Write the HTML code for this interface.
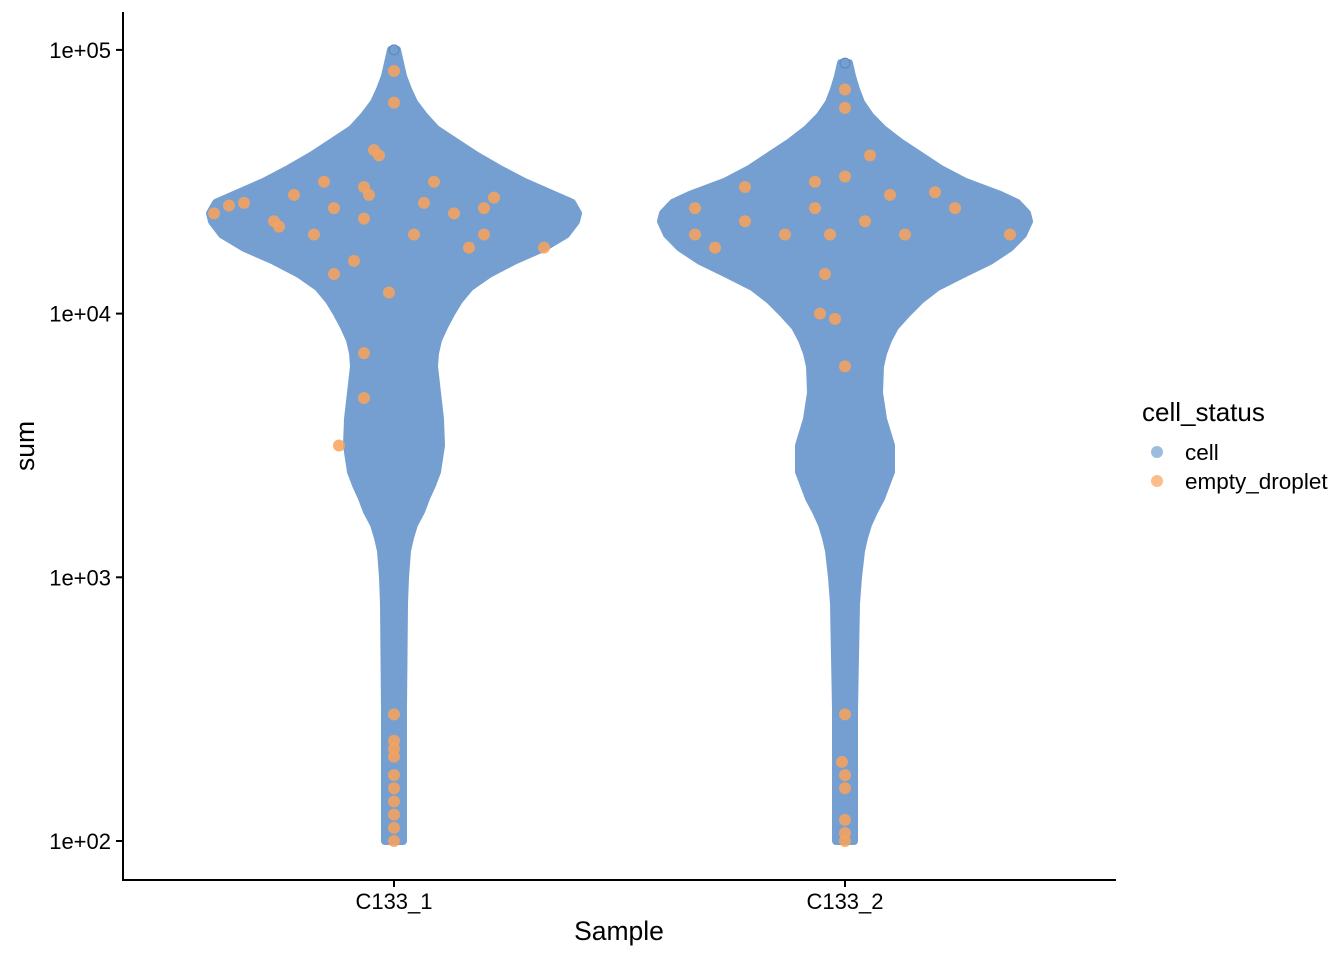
<!DOCTYPE html>
<html><head><meta charset="utf-8"><style>
body{margin:0;background:#fff;}
text{font-family:"Liberation Sans",sans-serif;}
</style></head><body>
<svg width="1344" height="960" viewBox="0 0 1344 960">
<g id="plot"></g>
<line x1="123" y1="12" x2="123" y2="880" stroke="#000" stroke-width="2"/>
<line x1="122" y1="880" x2="1116" y2="880" stroke="#000" stroke-width="2"/>
<g id="yticks"></g>
<g id="xticks"></g>
<text x="619" y="940" font-size="26.5" text-anchor="middle">Sample</text>
<text x="0" y="0" font-size="26.5" text-anchor="middle" transform="translate(34,446) rotate(-90)">sum</text>
<g>
<text x="1142" y="421" font-size="26">cell_status</text>
<g><circle cx="1157" cy="452" r="6" fill="#749fd0" opacity="0.7"/><text x="1185" y="460" font-size="22.5">cell</text></g>
<g><circle cx="1157" cy="481" r="6" fill="#f9a25a" opacity="0.7"/><text x="1185" y="489" font-size="22.5">empty_droplet</text></g>
</g>
</svg>
<script>
const categories=["C133_1","C133_2"];
const levels=[2.0,2.5,2.9,3.0,3.1,3.15,3.2,3.25,3.3,3.35,3.4,3.5,3.6,3.7,3.8,3.85,3.9,3.95,4.0,4.05,4.1,4.15,4.2,4.25,4.3,4.35,4.38,4.42,4.45,4.5,4.55,4.6,4.65,4.7,4.75,4.8,4.85,4.9,4.95,5.0];
const width1=[9,9,10,11,13,16,20,27,32,38,43,47,46,43,40,41,44,50,57,65,76,95,120,150,172,182,184,178,160,130,105,82,62,42,30,20,14,9,6,3];
const width2=[9,9,11,13,16,19,23,29,36,41,46,46,38,34,35,38,43,50,62,75,92,118,145,165,178,184,182,172,155,120,95,75,55,38,25,16,11,7,4,3];
const ymin1=2.0,ymax1=5.0,ymin2=2.0,ymax2=4.95;
const yTickVals=[2,3,4,5];
const yTickLabels=["1e+02","1e+03","1e+04","1e+05"];
const empty1=[[2.0,0],[2.05,0],[2.1,0],[2.15,0],[2.2,0],[2.25,0],[2.32,0],[2.35,0],[2.38,0],[2.48,0],[4.38,-180],[4.42,-150],[4.45,-100],[4.4,-60],[4.35,-120],[4.42,30],[4.38,60],[4.44,100],[4.3,90],[4.36,-30],[4.48,-30],[4.5,40],[4.3,20],[4.2,-40],[4.25,150],[4.25,75],[3.85,-30],[3.68,-30],[3.5,-55],[4.62,-20],[4.92,0],[4.8,0],[4.41,-165],[4.33,-115],[4.45,-25],[4.6,-15],[4.4,90],[4.3,-80],[4.15,-60],[4.08,-5],[4.5,-70]];
const empty2=[[2.0,0],[2.03,0],[2.08,0],[2.2,0],[2.25,0],[2.3,-3],[2.48,0],[4.4,-150],[4.3,-150],[4.35,-100],[4.25,-130],[4.3,-60],[4.4,-30],[4.5,-30],[4.46,90],[4.3,-15],[4.15,-20],[4.0,-25],[3.98,-10],[3.8,0],[4.45,45],[4.6,25],[4.3,60],[4.4,110],[4.3,165],[4.48,-100],[4.35,20],[4.85,0],[4.78,0],[4.52,0]];
const plotG=document.getElementById('plot');
const NS='http://www.w3.org/2000/svg';
function y(v){return 841-(v-2)*263.7;}
function x(i){return 394+i*451;}
function violin(i,ws,lo,hi){
  const cx=x(i);let r=[],l=[];
  r.push([cx,y(lo)]);
  levels.forEach((lv,k)=>{let vv=Math.min(Math.max(lv,lo),hi);r.push([cx+ws[k],y(vv)]);});
  r.push([cx,y(hi)]);
  for(let k=r.length-1;k>=0;k--)l.push([2*cx-r[k][0],r[k][1]]);
  const pts=r.concat(l);
  const p=document.createElementNS(NS,'polygon');
  p.setAttribute('points',pts.map(q=>q[0].toFixed(1)+','+q[1].toFixed(1)).join(' '));
  p.setAttribute('fill','#749fd0');p.setAttribute('stroke','#749fd0');p.setAttribute('stroke-width','8');p.setAttribute('stroke-linejoin','round');
  
  
  plotG.appendChild(p);
}
violin(0,width1,ymin1,ymax1);violin(1,width2,ymin2,ymax2);
function dots(i,arr){arr.forEach(d=>{const c=document.createElementNS(NS,'circle');
c.setAttribute('cx',x(i)+d[1]);c.setAttribute('cy',y(d[0]));c.setAttribute('r',6);c.setAttribute('fill','#f9a25a');c.setAttribute('opacity','0.85');


plotG.appendChild(c);});}
dots(0,empty1);dots(1,empty2);
[[0,5.0],[1,4.95]].forEach(t=>{const c=document.createElementNS(NS,'circle');c.setAttribute('cx',x(t[0]));c.setAttribute('cy',y(t[1]));c.setAttribute('r',5);c.setAttribute('fill','#749fd0');c.setAttribute('stroke','#5b86c0');


plotG.appendChild(c);});
const yt=document.getElementById('yticks');
yTickVals.forEach((v,k)=>{const l=document.createElementNS(NS,'line');l.setAttribute('x1',116);l.setAttribute('x2',123);l.setAttribute('y1',y(v));l.setAttribute('y2',y(v));l.setAttribute('stroke','#000');l.setAttribute('stroke-width','2');


yt.appendChild(l);
const t=document.createElementNS(NS,'text');t.setAttribute('x',111);t.setAttribute('y',y(v)+8);t.setAttribute('font-size','22');t.setAttribute('text-anchor','end');t.textContent=yTickLabels[k];


yt.appendChild(t);});
const xt=document.getElementById('xticks');
categories.forEach((c,i)=>{const l=document.createElementNS(NS,'line');l.setAttribute('x1',x(i));l.setAttribute('x2',x(i));l.setAttribute('y1',880);l.setAttribute('y2',887);l.setAttribute('stroke','#000');l.setAttribute('stroke-width','2');


xt.appendChild(l);
const t=document.createElementNS(NS,'text');t.setAttribute('x',x(i));t.setAttribute('y',909);t.setAttribute('font-size','22');t.setAttribute('text-anchor','middle');t.textContent=c;


xt.appendChild(t);});
</script>
</body></html>
